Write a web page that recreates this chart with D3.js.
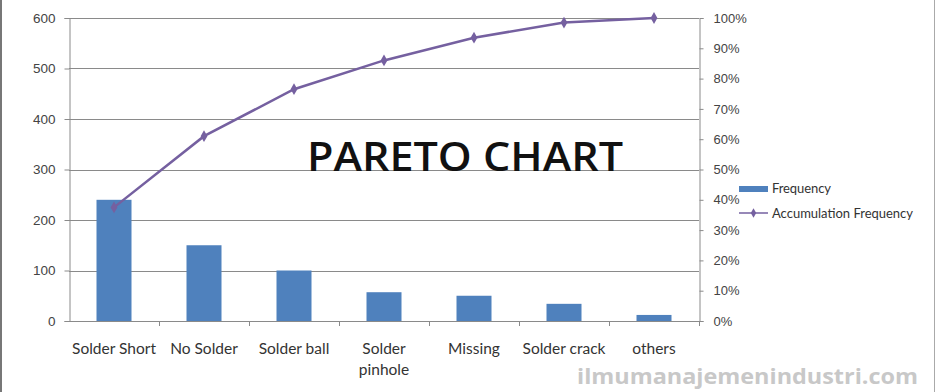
<html>
<head>
<meta charset="utf-8">
<title>Pareto chart</title>
<script src="https://cdn.jsdelivr.net/npm/d3@7/dist/d3.min.js"></script>
<style>
  body { margin: 0; background: #fff; }
  svg { display: block; font-family: Lato, "Open Sans", sans-serif; }
</style>
</head>
<body>
<div id="chart"></div>
<script>
const categories = ["Solder Short", "No Solder", "Solder ball", "Solder pinhole", "Missing", "Solder crack", "others"];
const frequency = [240, 150, 100, 57, 50, 34, 12];
const accumulation = [37.5, 61, 76.5, 86, 93.5, 98.5, 100];
const leftTicks = [0, 100, 200, 300, 400, 500, 600];
const rightTicks = [0, 10, 20, 30, 40, 50, 60, 70, 80, 90, 100];

const width = 936, height = 392;
const plotLeft = 69, plotRight = 699, plotTop = 18, plotBottom = 321;
const barColor = "#4f81bd", lineColor = "#7560a0", axisColor = "#8a8a8a";

const svg = d3.select("#chart").append("svg")
  .attr("width", width)
  .attr("height", height);

// frame edges
svg.append("line").attr("x1", 1).attr("x2", 1).attr("y1", 0).attr("y2", height)
  .attr("stroke", "#777").attr("stroke-width", 2);
svg.append("line").attr("x1", 934.5).attr("x2", 934.5).attr("y1", 0).attr("y2", height)
  .attr("stroke", "#aaa").attr("stroke-width", 1);

const x = d3.scaleBand().domain(categories).range([plotLeft, plotRight]);
const y = d3.scaleLinear().domain([0, 600]).range([plotBottom, plotTop]);
const yPct = d3.scaleLinear().domain([0, 100]).range([plotBottom, plotTop]);

// gridlines
svg.append("g").selectAll("line")
  .data(leftTicks)
  .join("line")
  .attr("x1", plotLeft).attr("x2", plotRight)
  .attr("y1", d => Math.round(y(d)) + 0.5).attr("y2", d => Math.round(y(d)) + 0.5)
  .attr("stroke", axisColor);

// left axis
const gl = svg.append("g").attr("transform", `translate(${plotLeft + 0.5},0)`)
  .call(d3.axisLeft(y).tickValues(leftTicks).tickSize(5).tickPadding(9));
gl.selectAll("text").attr("font-size", 13.5).attr("fill", "#444");

// right axis
const gr = svg.append("g").attr("transform", `translate(${plotRight + 0.5},0)`)
  .call(d3.axisRight(yPct).tickValues(rightTicks).tickSize(4).tickPadding(10)
    .tickFormat(d => d + "%"));
gr.selectAll("text").attr("font-size", 13).attr("fill", "#444");

[gl, gr].forEach(g => g.selectAll("line, path").attr("stroke", axisColor));

// bottom axis line and ticks between categories
svg.append("line").attr("x1", plotLeft).attr("x2", plotRight)
  .attr("y1", plotBottom + 0.5).attr("y2", plotBottom + 0.5).attr("stroke", axisColor);
svg.append("g").selectAll("line")
  .data(categories)
  .join("line")
  .attr("x1", d => Math.round(x(d) + x.bandwidth()) + 0.5)
  .attr("x2", d => Math.round(x(d) + x.bandwidth()) + 0.5)
  .attr("y1", plotBottom).attr("y2", plotBottom + 5)
  .attr("stroke", axisColor);

// category labels
const labels = svg.append("g").selectAll("text")
  .data(categories)
  .join("text")
  .attr("x", d => x(d) + x.bandwidth() / 2)
  .attr("y", 354)
  .attr("text-anchor", "middle")
  .attr("font-size", 15.5)
  .attr("fill", "#333");
labels.each(function(d) {
  const t = d3.select(this);
  if (d === "Solder pinhole") {
    t.append("tspan").attr("x", x(d) + x.bandwidth() / 2).text("Solder");
    t.append("tspan").attr("x", x(d) + x.bandwidth() / 2).attr("dy", 21).text("pinhole");
  } else {
    t.text(d);
  }
});

// bars
const barW = 35;
svg.append("g").selectAll("rect")
  .data(frequency)
  .join("rect")
  .attr("x", (d, i) => x(categories[i]) + x.bandwidth() / 2 - barW / 2)
  .attr("y", d => y(d))
  .attr("width", barW)
  .attr("height", d => plotBottom - y(d))
  .attr("fill", barColor);

// accumulation line
const line = d3.line()
  .x((d, i) => x(categories[i]) + x.bandwidth() / 2)
  .y(d => yPct(d));
svg.append("path")
  .datum(accumulation)
  .attr("d", line)
  .attr("fill", "none")
  .attr("stroke", lineColor)
  .attr("stroke-width", 2.5);
svg.append("g").selectAll("path")
  .data(accumulation)
  .join("path")
  .attr("transform", (d, i) => `translate(${x(categories[i]) + x.bandwidth() / 2},${yPct(d)})`)
  .attr("d", d3.symbol(d3.symbolDiamond, 40))
  .attr("fill", lineColor);

// title
svg.append("text")
  .attr("x", 465).attr("y", 171)
  .attr("text-anchor", "middle")
  .attr("font-family", "'Open Sans', sans-serif")
  .attr("font-size", 40)
  .attr("font-weight", 600)
  .attr("textLength", 316)
  .attr("lengthAdjust", "spacingAndGlyphs")
  .attr("fill", "#111")
  .text("PARETO CHART");

// legend
const lg = svg.append("g").attr("font-size", 13).attr("fill", "#333");
lg.append("rect").attr("x", 739).attr("y", 186).attr("width", 29).attr("height", 6).attr("fill", barColor);
lg.append("text").attr("x", 772).attr("y", 193).attr("textLength", 59).text("Frequency");
lg.append("line").attr("x1", 739).attr("x2", 768).attr("y1", 213).attr("y2", 213)
  .attr("stroke", lineColor).attr("stroke-width", 1.5);
lg.append("path").attr("transform", "translate(753.5,213)")
  .attr("d", d3.symbol(d3.symbolDiamond, 25)).attr("fill", lineColor);
lg.append("text").attr("x", 772).attr("y", 218).attr("textLength", 141).text("Accumulation Frequency");

// watermark
svg.append("text")
  .attr("x", 577).attr("y", 384)
  .attr("font-family", "'Open Sans', sans-serif")
  .attr("font-size", 22)
  .attr("font-weight", "bold")
  .attr("textLength", 341)
  .attr("lengthAdjust", "spacingAndGlyphs")
  .attr("fill", "#c8c8c8")
  .text("ilmumanajemenindustri.com");
</script>
</body>
</html>
